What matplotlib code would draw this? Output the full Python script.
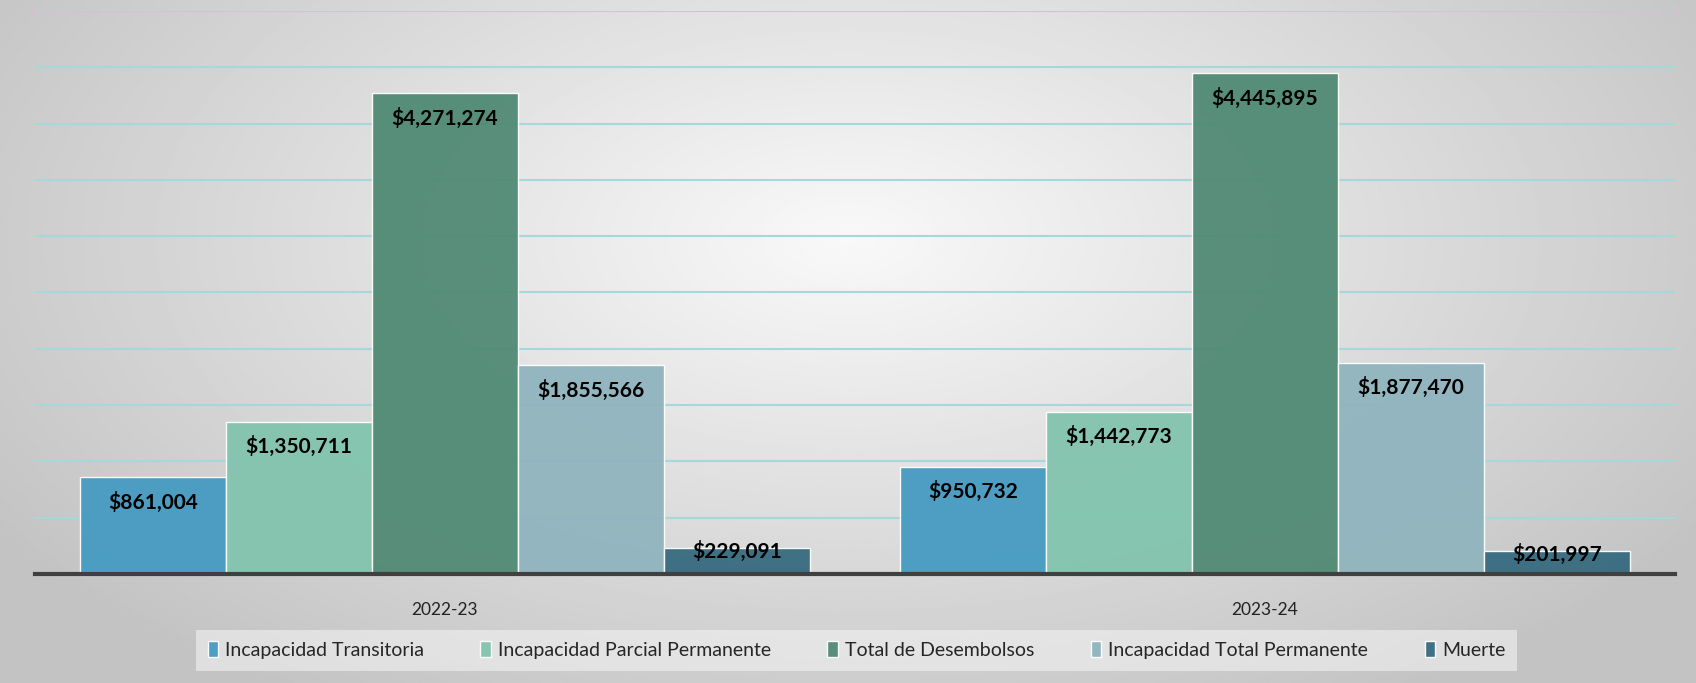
import numpy as np
import matplotlib.pyplot as plt

# Data
years = ['2022-23', '2023-24']
series_names = ['Incapacidad Transitoria', 'Incapacidad Parcial Permanente',
                'Total de Desembolsos', 'Incapacidad Total Permanente', 'Muerte']
transitoria = [861004, 950732]
parcial = [1350711, 1442773]
total_desembolsos = [4271274, 4445895]
total_permanente = [1855566, 1877470]
muerte = [229091, 201997]
colors = ['#469bc2', '#82c4ae', '#508a74', '#8fb4be', '#376a80']

plt.rcParams['font.family'] = ['Lato', 'DejaVu Sans']

fig = plt.figure(figsize=(16.96, 6.83), dpi=100)

# Radial gray gradient for the background
bg = fig.add_axes([0, 0, 1, 1], zorder=0)
yy, xx = np.mgrid[0:1:300j, 0:1:600j]
r = np.sqrt(((xx - 0.5) / 0.6) ** 2 + ((yy - 0.65) / 0.8) ** 2)
r = np.clip(r, 0, 1)
shade = 0.975 - 0.21 * r
bg.imshow(shade, cmap='gray', vmin=0, vmax=1, aspect='auto',
          extent=[0, 1, 0, 1], origin='lower')
bg.axis('off')

ax = fig.add_axes([0.0206, 0.1596, 0.967, 0.8244], zorder=1)
ax.patch.set_alpha(0)

data = [transitoria, parcial, total_desembolsos, total_permanente, muerte]
x = np.arange(len(years))
width = 0.178
for i, (name, vals, c) in enumerate(zip(series_names, data, colors)):
    pos = x + (i - 2) * width
    ax.bar(pos, vals, width=width, color=c, alpha=0.95, edgecolor='white',
           linewidth=1, label=name, zorder=3)
    for xp, v in zip(pos, vals):
        # small bars get the label sitting on the top edge
        off = -25 if v > 400000 else -3
        ax.annotate('${:,}'.format(v), (xp, v), xytext=(0, off),
                    textcoords='offset pixels', ha='center', va='center',
                    fontsize=15, fontweight='bold', color='black', zorder=5)

ax.set_xlim(-0.5, 1.5)
ax.set_ylim(0, 5000000)
ax.set_yticks(np.arange(500000, 5000001, 500000))
ax.yaxis.grid(True, color='#a6d8db', linewidth=1.5, zorder=1)
ax.tick_params(axis='y', left=False, labelleft=False)
ax.tick_params(axis='x', bottom=False, labelsize=12.5, pad=17, colors='#222222')
ax.set_xticks(x)
ax.set_xticklabels(years)
for s in ['top', 'right', 'left']:
    ax.spines[s].set_visible(False)
ax.spines['bottom'].set_color('#404040')
ax.spines['bottom'].set_linewidth(3)
ax.spines['bottom'].set_zorder(4)

leg = fig.legend(loc='center', bbox_to_anchor=(0.505, 0.048), ncol=5,
                 fontsize=14, frameon=True, fancybox=False,
                 handlelength=0.55, handleheight=0.85, handletextpad=0.35,
                 columnspacing=2.9, borderpad=0.6, borderaxespad=0,
                 labelcolor='#262626')
leg.get_frame().set_facecolor('#f2f2f2')
leg.get_frame().set_alpha(0.6)
leg.get_frame().set_edgecolor('none')

fig.savefig('out.png', dpi=100)
